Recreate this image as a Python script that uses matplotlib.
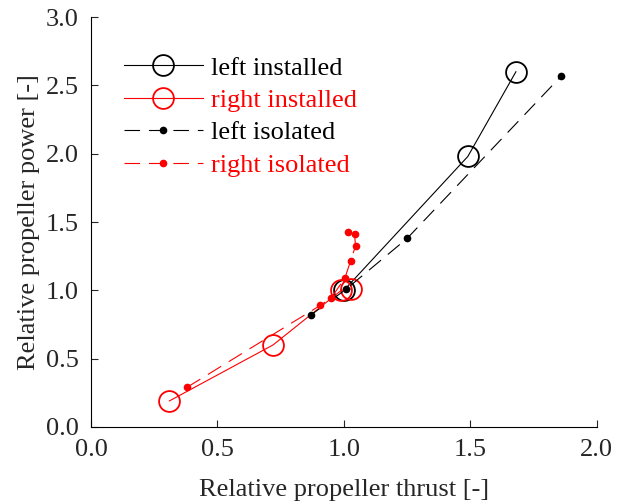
import matplotlib
matplotlib.use('Agg')
import matplotlib.pyplot as plt

# relative thrust / power values
left_inst_T = [1.00, 1.49, 1.68]
left_inst_P = [1.00, 1.98, 2.60]

right_inst_T = [0.31, 0.72, 0.99, 1.03]
right_inst_P = [0.19, 0.60, 1.00, 1.01]

left_iso_T = [0.87, 1.01, 1.25, 1.86]
left_iso_P = [0.82, 1.01, 1.38, 2.57]

right_iso_T = [0.38, 0.907, 0.95, 1.004, 1.027, 1.046, 1.042, 1.016]
right_iso_P = [0.29, 0.89, 0.945, 1.09, 1.218, 1.325, 1.41, 1.425]

xticks = [0.0, 0.5, 1.0, 1.5, 2.0]
yticks = [0.0, 0.5, 1.0, 1.5, 2.0, 2.5, 3.0]

plt.rcParams['font.family'] = ['Liberation Serif', 'DejaVu Serif']
plt.rcParams['font.size'] = 19

fig = plt.figure(figsize=(6.23, 5.04), dpi=100)
ax = fig.add_axes([0.146, 0.153, 0.812, 0.813])

dash = (0, (14, 8))
ax.plot(left_inst_T, left_inst_P, '-', color='black', lw=0.8,
        marker='o', ms=15, mfc='none', mec='black', mew=1.3, label='left installed')
ax.plot(right_inst_T, right_inst_P, '-', color='red', lw=0.8,
        marker='o', ms=15, mfc='none', mec='red', mew=1.3, label='right installed')
ax.plot(left_iso_T, left_iso_P, linestyle=dash, color='black', lw=0.8,
        marker='o', ms=4.5, mfc='black', mec='black', label='left isolated')
ax.plot(right_iso_T, right_iso_P, linestyle=dash, color='red', lw=0.8,
        marker='o', ms=4.5, mfc='red', mec='red', label='right isolated')

ax.set_xlim(0, 2.0)
ax.set_ylim(0, 3.0)
ax.set_xticks(xticks)
ax.set_yticks(yticks)
ax.set_xticklabels([f'{v:.1f}' for v in xticks])
ax.set_yticklabels([f'{v:.1f}' for v in yticks])
ax.spines['top'].set_visible(False)
ax.spines['right'].set_visible(False)
ax.tick_params(direction='in', length=5, width=0.8, colors='#262626')
ax.tick_params(axis='x', pad=9)
ax.tick_params(axis='y', pad=9)
for s in ['left', 'bottom']:
    ax.spines[s].set_linewidth(0.8)

ax.set_xlabel('Relative propeller thrust [-]', color='#262626', labelpad=13)
ax.set_ylabel('Relative propeller power [-]', color='#262626', labelpad=4)

leg = ax.legend(loc='upper left', bbox_to_anchor=(0.065, 0.905), frameon=False,
                borderaxespad=0, borderpad=0, handlelength=3.0, handletextpad=0.3,
                labelspacing=0.34, labelcolor='linecolor')

fig.savefig('out.png', dpi=100)
